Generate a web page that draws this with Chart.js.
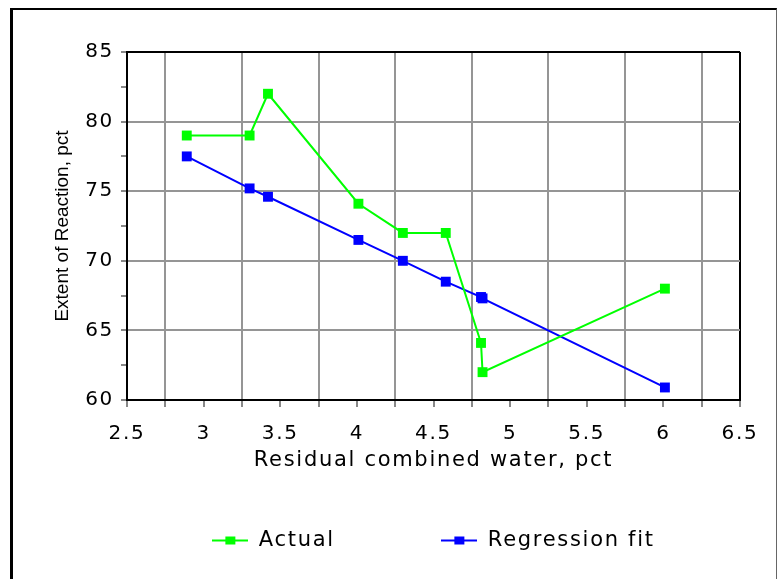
<!DOCTYPE html>
<html>
<head>
<meta charset="utf-8">
<script src="https://cdn.jsdelivr.net/npm/chart.js@4.4.0/dist/chart.umd.min.js"></script>
<style>
 html,body{margin:0;padding:0;background:#fff;overflow:hidden;}
 #wrap{position:absolute;left:0;top:0;width:778px;height:579px;overflow:hidden;}
 #frame{position:absolute;left:10px;top:8px;width:763px;height:600px;border-left:3px solid #000;border-top:2px solid #000;border-right:1px solid #666;}
 canvas{position:absolute;left:0;top:0;}
</style>
</head>
<body>
<div id="wrap"><div id="frame"></div><canvas id="reactionChart" width="778" height="579"></canvas></div>
<script>
// residual combined water (x) vs extent of reaction (y)
const waterPct = [2.89, 3.30, 3.42, 4.01, 4.30, 4.58, 4.81, 4.82, 6.01];
const actualPct = [79.0, 79.0, 82.0, 74.1, 72.0, 72.0, 64.1, 62.0, 68.0];
const fitPct = [77.5, 75.2, 74.6, 71.5, 70.0, 68.5, 67.4, 67.3, 60.9];
const xTickLabels = [2.5, 3, 3.5, 4, 4.5, 5, 5.5, 6, 6.5];
const yTickLabels = [60, 65, 70, 75, 80, 85];

const halfSteps = vals => {
  const out = [];
  vals.forEach((v, i) => {
    out.push(v);
    if (i < vals.length - 1) out.push((v + vals[i + 1]) / 2);
  });
  return out;
};

const tickFont = {family: 'DejaVu Sans', size: 20};
const textFont = {family: 'DejaVu Sans', size: 21};

// legend swatch: short line with a square in the middle
function legendMark(color) {
  const c = document.createElement('canvas');
  c.width = 36; c.height = 12;
  const g = c.getContext('2d');
  g.strokeStyle = color; g.lineWidth = 2;
  g.beginPath(); g.moveTo(0, 6); g.lineTo(36, 6); g.stroke();
  g.fillStyle = color; g.fillRect(13, 2, 10, 8);
  return c;
}
const blankMark = document.createElement('canvas');
blankMark.width = 36; blankMark.height = 12;

const spacing = {
  id: 'letterSpacing',
  beforeLayout(chart) { chart.ctx.letterSpacing = '1.7px'; },
  beforeDraw(chart) { chart.ctx.letterSpacing = '1.7px'; }
};

const ctx = document.getElementById('reactionChart');
const chart = new Chart(ctx, {
  type: 'line',
  data: {
    datasets: [{
      label: 'Actual',
      data: waterPct.map((x, i) => ({x: x, y: actualPct[i]})),
      borderColor: '#00ff00',
      backgroundColor: '#00ff00',
      borderWidth: 2,
      pointStyle: 'rect',
      pointRadius: 7,
      pointBorderWidth: 0,
      tension: 0
    }, {
      label: 'Regression fit',
      data: waterPct.map((x, i) => ({x: x, y: fitPct[i]})),
      borderColor: '#0000ff',
      backgroundColor: '#0000ff',
      borderWidth: 2,
      pointStyle: 'rect',
      pointRadius: 7,
      pointBorderWidth: 0,
      tension: 0
    }]
  },
  options: {
    responsive: false,
    animation: false,
    layout: {padding: {left: 0, right: 38, top: 52, bottom: 18}},
    scales: {
      x: {
        type: 'linear',
        min: 2.5,
        max: 6.5,
        afterBuildTicks: s => { s.ticks = halfSteps(xTickLabels).map(v => ({value: v})); },
        afterFit: s => { s.height = 100; },
        ticks: {
          autoSkip: false,
          maxRotation: 0,
          padding: 15,
          color: '#000',
          font: tickFont,
          callback: v => xTickLabels.includes(v) ? String(v) : ''
        },
        grid: {
          color: c => {
            const v = c.tick ? c.tick.value : null;
            if (v === 6.5) return '#000';
            if (xTickLabels.includes(v)) return 'rgba(0,0,0,0)';
            return '#959595';
          },
          lineWidth: 2,
          tickLength: 7,
          tickColor: '#888',
          tickWidth: 2
        },
        border: {color: '#000', width: 2},
        title: {
          display: true,
          text: 'Residual combined water, pct',
          color: '#000',
          font: textFont,
          padding: {top: 0, bottom: 27}
        }
      },
      y: {
        type: 'linear',
        min: 60,
        max: 85,
        afterBuildTicks: s => { s.ticks = halfSteps(yTickLabels).map(v => ({value: v})); },
        afterFit: s => { s.width = 127; },
        ticks: {
          autoSkip: false,
          padding: 7,
          color: '#000',
          font: tickFont,
          callback: v => yTickLabels.includes(v) ? String(v) : ''
        },
        grid: {
          color: c => {
            const v = c.tick ? c.tick.value : null;
            if (v === 85) return '#000';
            if (v === 65 || v === 70 || v === 75 || v === 80) return '#959595';
            return 'rgba(0,0,0,0)';
          },
          lineWidth: 2,
          tickLength: 6,
          tickColor: '#888',
          tickWidth: 2
        },
        border: {color: '#000', width: 2},
        title: {
          display: true,
          text: 'Extent of Reaction, pct',
          color: '#000',
          font: {family: 'Liberation Sans', size: 19},
          padding: {top: 51, bottom: 0}
        }
      }
    },
    plugins: {
      legend: {
        position: 'bottom',
        fullSize: false,
        labels: {
          usePointStyle: true,
          pointStyleWidth: 36,
          padding: 30,
          color: '#000',
          font: textFont,
          generateLabels: ch => {
            const items = ch.data.datasets.map((ds, i) => ({
              text: ds.label,
              fillStyle: ds.borderColor,
              strokeStyle: ds.borderColor,
              lineWidth: 0,
              pointStyle: legendMark(ds.borderColor),
              hidden: false,
              datasetIndex: i
            }));
            // empty spacer between the two entries
            items.splice(1, 0, {text: '', fillStyle: 'rgba(0,0,0,0)', strokeStyle: 'rgba(0,0,0,0)', lineWidth: 0, pointStyle: blankMark, hidden: false});
            return items;
          }
        }
      },
      tooltip: {enabled: false}
    }
  },
  plugins: [spacing]
});

// axis title on the left is drawn without the extra letter spacing
const yScale = chart.scales.y;
const baseDrawTitle = yScale.drawTitle;
yScale.drawTitle = function () {
  this.ctx.save();
  this.ctx.letterSpacing = '0px';
  baseDrawTitle.call(this);
  this.ctx.restore();
};
chart.draw();
</script>
</body>
</html>
